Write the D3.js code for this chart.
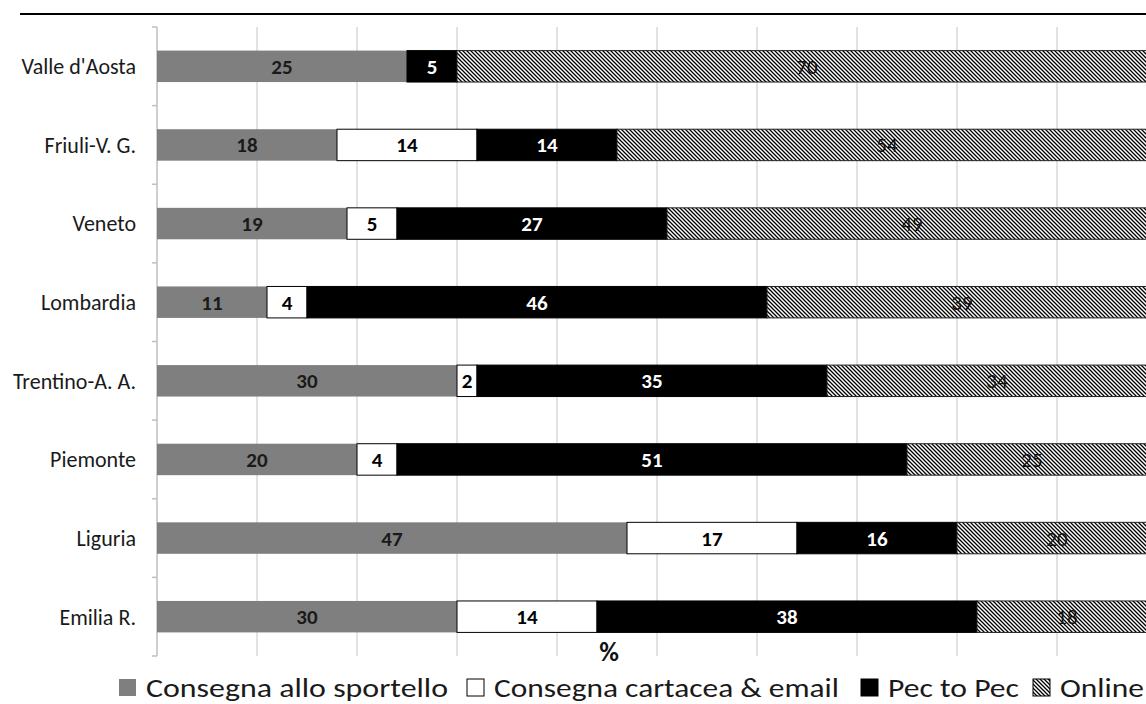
<!DOCTYPE html>
<html><head><meta charset="utf-8">
<script src="https://cdn.jsdelivr.net/npm/d3@7/dist/d3.min.js"></script>
<style>html,body{margin:0;padding:0;background:#fff;overflow:hidden}</style>
</head><body>
<svg id="c" width="1146" height="704"></svg>
<script>
const categories = ["Valle d'Aosta","Friuli-V. G.","Veneto","Lombardia","Trentino-A. A.","Piemonte","Liguria","Emilia R."];
const seriesNames = ["Consegna allo sportello","Consegna cartacea & email","Pec to Pec","Online"];
const sportello = [25,18,19,11,30,20,47,30];
const cartacea  = [0,14,5,4,2,4,17,14];
const pec       = [5,14,27,46,35,51,16,38];
const online    = [70,54,49,39,34,25,20,18];
const xTicks = [0,10,20,30,40,50,60,70,80,90,100];
const axisTitle = "%";

const FONT = "Carlito, Calibri, Lato, 'Open Sans', sans-serif";
const svg = d3.select("#c");
const defs = svg.append("defs");
const pat = defs.append("pattern").attr("id","hatch").attr("patternUnits","userSpaceOnUse")
  .attr("width",4).attr("height",4);
pat.append("rect").attr("width",4).attr("height",4).attr("fill","#fff");
pat.append("path").attr("d","M-1,-1L5,5M-1,3L1,5M3,-1L5,1").attr("stroke","#000").attr("stroke-width",1.3);

const styles = [
  {fill:"#7f7f7f", stroke:"none", text:"#1a1a1a", weight:"bold"},
  {fill:"#ffffff", stroke:"#000", text:"#000", weight:"bold"},
  {fill:"#000000", stroke:"#000", text:"#fff", weight:"bold"},
  {fill:"url(#hatch)", stroke:"#222", text:"#111", weight:"normal"}
];

const x = d3.scaleLinear().domain([0,100]).range([157,1157]);
const y = d3.scaleBand().domain(categories).range([27,656]).paddingInner(0.6).paddingOuter(0.3);

// top rule
svg.append("line").attr("x1",20).attr("x2",1146).attr("y1",14).attr("y2",14)
  .attr("stroke","#000").attr("stroke-width",2);

// gridlines
svg.append("g").selectAll("line").data(xTicks.filter(d=>d>0)).join("line")
  .attr("x1",d=>x(d)).attr("x2",d=>x(d)).attr("y1",27).attr("y2",656)
  .attr("stroke","#d9d9d9").attr("stroke-width",1.5);

// y axis line and ticks at band boundaries
svg.append("line").attr("x1",157).attr("x2",157).attr("y1",27).attr("y2",656)
  .attr("stroke","#bfbfbf").attr("stroke-width",1.5);
const step = (656-27)/categories.length;
svg.append("g").selectAll("line").data(d3.range(categories.length+1)).join("line")
  .attr("x1",152).attr("x2",157).attr("y1",d=>27+d*step).attr("y2",d=>27+d*step)
  .attr("stroke","#bfbfbf").attr("stroke-width",1.5);

// category labels
svg.append("g").selectAll("text").data(categories).join("text")
  .attr("x",136).attr("y",d=>y(d)+y.bandwidth()/2).attr("dy","0.36em")
  .attr("text-anchor","end").attr("font-family",FONT).attr("font-size",22).attr("fill","#1a1a1a")
  .text(d=>d);

// stacked data
const table = categories.map((c,i)=>({cat:c, vals:[sportello[i],cartacea[i],pec[i],online[i]]}));
const segs = [];
table.forEach(r=>{
  let acc=0;
  r.vals.forEach((v,k)=>{ segs.push({cat:r.cat,k,v,x0:acc,x1:acc+v}); acc+=v; });
});
const bars = segs.filter(s=>s.v>0);
svg.append("g").selectAll("rect").data(bars).join("rect")
  .attr("x",d=>x(d.x0)).attr("width",d=>x(d.x1)-x(d.x0))
  .attr("y",d=>y(d.cat)).attr("height",y.bandwidth())
  .attr("fill",d=>styles[d.k].fill).attr("stroke",d=>styles[d.k].stroke).attr("stroke-width",1);

svg.append("g").selectAll("text").data(bars).join("text")
  .attr("x",d=>(x(d.x0)+x(d.x1))/2).attr("y",d=>y(d.cat)+y.bandwidth()/2).attr("dy","0.36em")
  .attr("text-anchor","middle").attr("font-family",FONT).attr("font-size",21)
  .attr("font-weight",d=>styles[d.k].weight).attr("fill",d=>styles[d.k].text)
  .text(d=>d3.format(".0f")(d.v));

// axis title
svg.append("text").attr("x",609).attr("y",661).attr("text-anchor","middle")
  .attr("font-family",FONT).attr("font-weight","bold").attr("font-size",27).attr("fill","#111")
  .text(axisTitle);

// legend
const legX = [119, 467, 861, 1033];
const legLen = [302, 345, 131, 84];
const lg = svg.append("g").selectAll("g").data(seriesNames).join("g")
  .attr("transform",(d,i)=>`translate(${legX[i]},0)`);
lg.append("rect").attr("x",0).attr("y",679).attr("width",17).attr("height",17)
  .attr("fill",(d,i)=>styles[i].fill).attr("stroke",(d,i)=>i===0?"none":"#000").attr("stroke-width",1);
lg.append("text").attr("x",27).attr("y",697).attr("font-family",FONT).attr("font-size",27)
  .attr("fill","#1a1a1a").attr("textLength",(d,i)=>legLen[i]).attr("lengthAdjust","spacingAndGlyphs")
  .text(d=>d);
</script>
</body></html>
